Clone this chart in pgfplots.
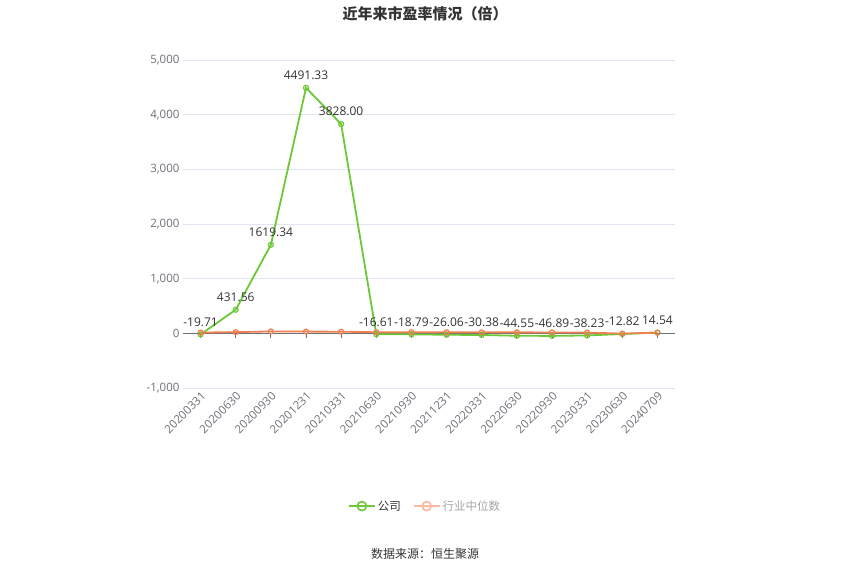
\documentclass[border=0pt]{standalone}
\usepackage{pgfplots}
\pgfplotsset{compat=1.18}
\usepackage{fontspec}
\setmainfont{Open Sans}
\newfontfamily\cjk{Noto Sans CJK SC}
\definecolor{cgreen}{RGB}{108,200,56}
\definecolor{corange}{RGB}{240,128,80}
\definecolor{corangel}{RGB}{249,185,160}
\definecolor{gridc}{RGB}{224,230,241}
\definecolor{tickc}{RGB}{110,112,121}
\definecolor{txt}{RGB}{51,51,51}
\begin{document}
\begin{tikzpicture}[x=1pt,y=1pt]
\path (0,0) rectangle (850,575);
\node[font=\cjk\fontsize{15}{18}\selectfont\bfseries, text=txt] at (425,561) {近年来市盈率情况（倍）};
\node[font=\cjk\fontsize{12}{14}\selectfont, text=txt] at (425,21) {数据来源：恒生聚源};
\begin{axis}[
  at={(183pt,187pt)}, anchor=south west,
  scale only axis, width=492pt, height=328pt,
  xmin=-0.5, xmax=13.5, ymin=-1000, ymax=5000,
  ytick={-1000,0,1000,2000,3000,4000,5000},
  yticklabel style={font=\fontsize{11.5}{13}\selectfont, text=tickc},
  /pgf/number format/assume math mode=true,
  /pgf/number format/1000 sep={,},
  xtick={0,...,13},
  xticklabels={20200331,20200630,20200930,20201231,20210331,20210630,20210930,20211231,20220331,20220630,20220930,20230331,20230630,20240709},
  xticklabel style={rotate=45, anchor=north east, font=\fontsize{11.5}{13}\selectfont, text=tickc, inner sep=2pt},
  ymajorgrids, grid style={gridc, line width=0.6pt},
  axis line style={draw=none},
  major tick style={draw=none},
  extra y ticks={0}, extra y tick labels={},
  extra y tick style={grid style={tickc, line width=0.8pt}},
  clip=false,
  legend style={at={(0.492,-0.36)}, anchor=center, draw=none, legend columns=2, font=\cjk\fontsize{11.5}{13}\selectfont, /tikz/every even column/.append style={column sep=10pt}},
  legend image code/.code={\draw[mark repeat=2,mark phase=2,#1] plot coordinates {(0pt,0pt)(13pt,0pt)(26pt,0pt)};},
]
\pgfplotsinvokeforeach{0,...,13}{\draw[tickc, line width=0.8pt] (axis cs:#1,0) -- (axis cs:#1,-92);}
\addplot[cgreen, line width=1.8pt, mark=o, mark size=2.5pt, mark options={fill=white, line width=1.2pt},
  nodes near coords, point meta=explicit symbolic, forget plot,
  every node near coord/.append style={font=\fontsize{12}{14}\selectfont, text=txt, anchor=south, yshift=4pt}]
 table[meta=l] {
x y l
0 -19.71 -19.71
1 431.56 431.56
2 1619.34 1619.34
3 4491.33 4491.33
4 3828.00 3828.00
5 -16.61 -16.61
6 -18.79 -18.79
7 -26.06 -26.06
8 -30.38 -30.38
9 -44.55 -44.55
10 -46.89 -46.89
11 -38.23 -38.23
12 -12.82 -12.82
13 14.54 14.54
};
\addplot[corange, line width=1.8pt, mark=o, mark size=2.5pt, mark options={fill=white, line width=1.2pt}, forget plot]
 table {
x y
0 14
1 22
2 35
3 32
4 30
5 20
6 20
7 20
8 18
9 18
10 16
11 14
12 -5
13 12
};
\addlegendimage{cgreen, line width=1.8pt, mark=o, mark size=4.5pt, mark options={fill=white, line width=1.6pt}}
\addlegendentry{\textcolor{txt}{公司}}
\addlegendimage{corangel, line width=1.8pt, mark=o, mark size=4.5pt, mark options={fill=white, line width=1.6pt}}
\addlegendentry{\textcolor{gray!70}{行业中位数}}
\end{axis}
\end{tikzpicture}
\end{document}
